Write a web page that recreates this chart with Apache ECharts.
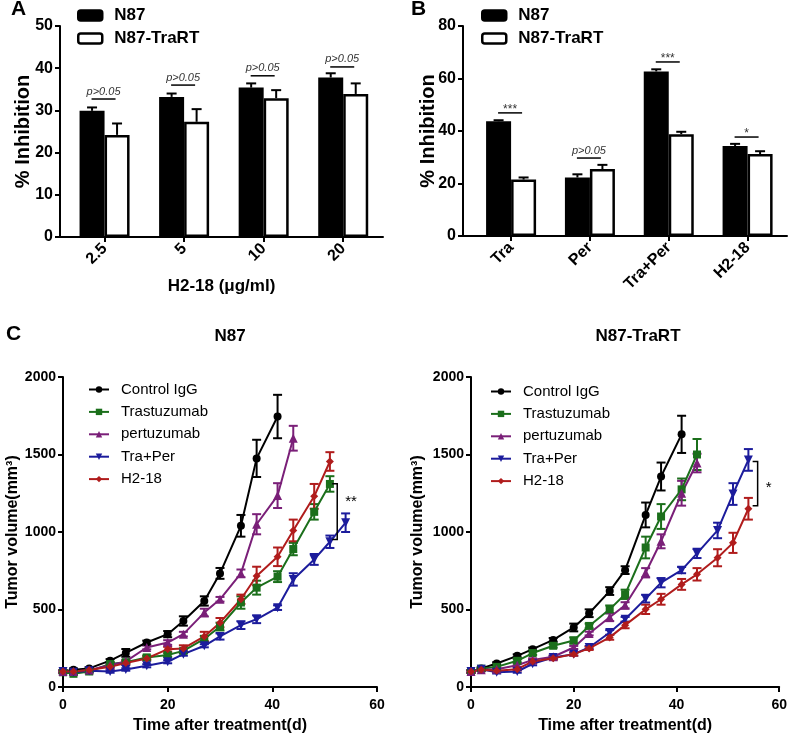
<!DOCTYPE html>
<html><head><meta charset="utf-8">
<script src="https://cdn.jsdelivr.net/npm/echarts@6/dist/echarts.min.js"></script>
<style>html,body{margin:0;padding:0;background:#fff}#c{width:790px;height:735px}</style>
</head><body><div id="c"></div>
<script>
// ---------- Panel A ----------
const aCategories = ['2.5', '5', '10', '20'];
const aN87 = [29.9, 33.2, 35.4, 37.8];
const aN87Err = [0.8, 0.8, 1.0, 1.0];
const aTraRT = [24.2, 27.3, 32.9, 33.9];
const aTraRTErr = [2.7, 3.0, 1.9, 2.5];
const aSigLabels = ['p>0.05', 'p>0.05', 'p>0.05', 'p>0.05'];
const aSigLevels = [32.7, 36.0, 38.2, 40.3];

// ---------- Panel B ----------
const bCategories = ['Tra', 'Per', 'Tra+Per', 'H2-18'];
const bN87 = [43.7, 22.3, 62.7, 34.3];
const bN87Err = [0.4, 1.2, 0.8, 0.8];
const bTraRT = [21.5, 25.5, 38.8, 31.2];
const bTraRTErr = [0.8, 1.6, 0.9, 1.1];
const bSigLabels = ['***', 'p>0.05', '***', '*'];
const bSigLevels = [46.9, 29.7, 66.3, 37.7];

// ---------- Panel C ----------
const days = [0, 2, 5, 9, 12, 16, 20, 23, 27, 30, 34, 37, 41, 44, 48, 51, 54];
const groupNames = ['Control IgG', 'Trastuzumab', 'pertuzumab', 'Tra+Per', 'H2-18'];

// N87 xenograft
const n87Control = [100, 112, 120, 170, 220, 287, 341, 426, 555, 733, 1040, 1475, 1745];
const n87ControlErr = [8, 8, 8, 10, 25, 12, 20, 30, 30, 35, 70, 120, 140];
const n87Tras = [95, 85, 100, 148, 160, 191, 206, 233, 310, 390, 545, 641, 712, 890, 1130, 1310];
const n87TrasErr = [8, 8, 8, 10, 10, 12, 12, 15, 20, 25, 40, 45, 35, 40, 50, 50];
const n87Pert = [100, 100, 110, 140, 165, 255, 287, 341, 480, 566, 733, 1050, 1235, 1605];
const n87PertErr = [8, 8, 8, 10, 10, 12, 15, 15, 25, 15, 25, 65, 80, 80];
const n87TraPer = [100, 95, 105, 100, 113, 137, 163, 212, 266, 326, 399, 437, 512, 694, 823, 937, 1060];
const n87TraPerErr = [8, 8, 8, 8, 8, 10, 10, 10, 10, 20, 25, 25, 15, 40, 35, 40, 60];
const n87H218 = [100, 100, 110, 130, 155, 184, 244, 249, 326, 415, 566, 716, 840, 1010, 1230, 1455];
const n87H218Err = [8, 8, 8, 10, 10, 12, 15, 20, 30, 30, 30, 60, 60, 70, 80, 60];
const n87Bracket = [52.4, 1312, 952];
const n87BracketLabel = '**';

// N87-TraRT xenograft
const rtControl = [100, 120, 152, 201, 244, 304, 384, 476, 619, 754, 1110, 1358, 1630];
const rtControlErr = [8, 8, 8, 10, 10, 12, 25, 25, 25, 25, 80, 90, 120];
const rtTras = [100, 118, 130, 169, 219, 266, 300, 394, 501, 598, 900, 1100, 1275, 1500];
const rtTrasErr = [8, 8, 8, 10, 12, 12, 20, 15, 25, 30, 70, 80, 70, 100];
const rtPert = [100, 112, 115, 140, 175, 195, 255, 345, 450, 527, 737, 940, 1250, 1445];
const rtPertErr = [8, 8, 8, 10, 10, 10, 10, 12, 25, 20, 30, 45, 80, 60];
const rtTraPer = [100, 115, 95, 100, 150, 190, 212, 255, 352, 437, 570, 673, 754, 862, 1010, 1245, 1465];
const rtTraPerErr = [8, 8, 8, 8, 10, 10, 10, 10, 15, 15, 25, 30, 20, 30, 50, 70, 70];
const rtH218 = [100, 112, 105, 115, 165, 185, 212, 249, 320, 399, 501, 566, 662, 727, 834, 930, 1150];
const rtH218Err = [8, 8, 8, 8, 10, 10, 10, 10, 15, 20, 30, 35, 35, 40, 55, 65, 70];
const rtBracket = [55.8, 1455, 1170];
const rtBracketLabel = '*';

// ---------- styling ----------
const FONT = '"Liberation Sans", Arial, Helvetica, sans-serif';
const BAR_W = 25;
const groupColors = ['#000000', '#1b6f1b', '#7a1f78', '#1c1c9c', '#b01c1c'];
const groupSymbols = ['circle', 'rect', 'triangle', 'path://M0,0L10,0L5,9Z', 'diamond'];
const groupSymbolSizes = [8, 8, 9, 9, 8];

const axisLine = { show: true, onZero: false, lineStyle: { color: '#000', width: 2 } };
const axisTick = { show: true, length: 5, lineStyle: { color: '#000', width: 2 } };

function barErrRender(sign) {
  return function (params, api) {
    const i = api.value(0), v = api.value(1), e = api.value(2);
    const p0 = api.coord([i, v]);
    const p1 = api.coord([i, v + e]);
    const x = p0[0] + sign * BAR_W / 2;
    return { type: 'group', children: [
      { type: 'line', shape: { x1: x, y1: p0[1], x2: x, y2: p1[1] }, style: { stroke: '#000', lineWidth: 2 } },
      { type: 'line', shape: { x1: x - 5, y1: p1[1], x2: x + 5, y2: p1[1] }, style: { stroke: '#000', lineWidth: 2 } }
    ]};
  };
}
function sigRender(labels) {
  return function (params, api) {
    const p = api.coord([api.value(0), api.value(1)]);
    const txt = labels[params.dataIndex];
    const isP = txt.indexOf('p') === 0;
    return { type: 'group', children: [
      { type: 'line', shape: { x1: p[0] - 13, y1: p[1], x2: p[0] + 11, y2: p[1] }, style: { stroke: '#000', lineWidth: 1.5 } },
      { type: 'text', x: p[0] - 1, y: isP ? p[1] - 2 : p[1] + 3, style: { text: txt, align: 'center', verticalAlign: 'bottom',
        fontSize: isP ? 11 : 12, fontStyle: isP ? 'italic' : 'normal', fontFamily: FONT, fill: '#333' } }
    ]};
  };
}
function lineErrRender(color) {
  return function (params, api) {
    const x = api.value(0), y = api.value(1), e = api.value(2);
    const t = api.coord([x, y + e]), b = api.coord([x, y - e]);
    const st = { stroke: color, lineWidth: 2 };
    return { type: 'group', children: [
      { type: 'line', shape: { x1: t[0], y1: t[1], x2: b[0], y2: b[1] }, style: st },
      { type: 'line', shape: { x1: t[0] - 4.5, y1: t[1], x2: t[0] + 4.5, y2: t[1] }, style: st },
      { type: 'line', shape: { x1: b[0] - 4.5, y1: b[1], x2: b[0] + 4.5, y2: b[1] }, style: st }
    ]};
  };
}
function bracketRender(label, dy) {
  return function (params, api) {
    const x = api.value(0);
    const a = api.coord([x, api.value(1)]), b = api.coord([x, api.value(2)]);
    return { type: 'group', children: [
      { type: 'polyline', shape: { points: [[a[0] - 5, a[1]], [a[0], a[1]], [b[0], b[1]], [b[0] - 5, b[1]]] },
        style: { stroke: '#000', lineWidth: 1.5, fill: null } },
      { type: 'text', x: a[0] + 8, y: (a[1] + b[1]) / 2 + dy, style: { text: label, align: 'left', verticalAlign: 'middle',
        fontSize: 15, fontFamily: FONT, fill: '#000' } }
    ]};
  };
}

const series = [];
// Bars A (grid 0) and B (grid 1)
[[aN87, aN87Err, aTraRT, aTraRTErr, aSigLevels, aSigLabels, 0],
 [bN87, bN87Err, bTraRT, bTraRTErr, bSigLevels, bSigLabels, 1]].forEach(([n, ne, t, te, sl, sLab, g]) => {
  series.push({ type: 'bar', name: 'N87', xAxisIndex: g, yAxisIndex: g, barWidth: BAR_W, barGap: '0%',
    itemStyle: { color: '#000', borderColor: '#000', borderWidth: 2.5 }, data: n.map((v, i) => [i, v]) });
  series.push({ type: 'bar', name: 'N87-TraRT', xAxisIndex: g, yAxisIndex: g, barWidth: BAR_W, barGap: '0%',
    itemStyle: { color: '#fff', borderColor: '#000', borderWidth: 2.5 }, data: t.map((v, i) => [i, v]) });
  series.push({ type: 'custom', xAxisIndex: g, yAxisIndex: g, renderItem: barErrRender(-1), encode: { x: 0, y: 1 },
    data: n.map((v, i) => [i, v, ne[i]]), z: 3 });
  series.push({ type: 'custom', xAxisIndex: g, yAxisIndex: g, renderItem: barErrRender(1), encode: { x: 0, y: 1 },
    data: t.map((v, i) => [i, v, te[i]]), z: 3 });
  series.push({ type: 'custom', xAxisIndex: g, yAxisIndex: g, renderItem: sigRender(sLab), encode: { x: 0, y: 1 },
    data: sl.map((v, i) => [i, v]), z: 4 });
});

// Lines C (grids 2, 3)
const panelC = [
  { g: 2, vals: [n87Control, n87Tras, n87Pert, n87TraPer, n87H218], errs: [n87ControlErr, n87TrasErr, n87PertErr, n87TraPerErr, n87H218Err], br: n87Bracket, brl: n87BracketLabel, dy: -10 },
  { g: 3, vals: [rtControl, rtTras, rtPert, rtTraPer, rtH218], errs: [rtControlErr, rtTrasErr, rtPertErr, rtTraPerErr, rtH218Err], br: rtBracket, brl: rtBracketLabel, dy: 4 }
];
panelC.forEach(p => {
  p.vals.forEach((vals, k) => {
    const col = groupColors[k];
    series.push({ type: 'custom', xAxisIndex: p.g, yAxisIndex: p.g, renderItem: lineErrRender(col), encode: { x: 0, y: 1 },
      data: vals.map((v, i) => [days[i], v, p.errs[k][i]]), z: 2 });
    series.push({ type: 'line', name: groupNames[k], xAxisIndex: p.g, yAxisIndex: p.g,
      symbol: groupSymbols[k], symbolSize: groupSymbolSizes[k], showAllSymbol: true,
      lineStyle: { color: col, width: 2 }, itemStyle: { color: col },
      data: vals.map((v, i) => [days[i], v]), z: 3 });
  });
  series.push({ type: 'custom', xAxisIndex: p.g, yAxisIndex: p.g, renderItem: bracketRender(p.brl, p.dy), encode: { x: 0, y: 1 },
    data: [p.br], z: 4 });
});

const catTicks = [0, 1, 2, 3];
function barXAxis(g, cats, min) {
  return { gridIndex: g, type: 'value', min: min, max: 3.5,
    axisLine, axisTick: Object.assign({}, axisTick, { customValues: catTicks }), splitLine: { show: false },
    axisLabel: { customValues: catTicks, rotate: 45, margin: 9, color: '#000', fontSize: 16, fontWeight: 'bold', fontFamily: FONT,
      formatter: v => cats[Math.round(v)] } };
}
function yAxisCfg(g, max, interval, name, nameGap, fs, lfs, margin, moveOverlap) {
  return { gridIndex: g, type: 'value', min: 0, max, interval, name, nameLocation: 'middle', nameGap, nameRotate: 90,
    nameMoveOverlap: moveOverlap,
    nameTextStyle: { color: '#000', fontSize: fs, fontWeight: 'bold', fontFamily: FONT },
    axisLine, axisTick, splitLine: { show: false },
    axisLabel: { color: '#000', fontSize: lfs, fontWeight: 'bold', fontFamily: FONT, margin, formatter: v => String(v) } };
}
function timeXAxis(g) {
  return { gridIndex: g, type: 'value', min: 0, max: 60, interval: 20, name: 'Time after treatment(d)',
    nameLocation: 'middle', nameGap: 31, nameTextStyle: { color: '#000', fontSize: 16, fontWeight: 'bold', fontFamily: FONT },
    axisLine, axisTick, splitLine: { show: false },
    axisLabel: { color: '#000', fontSize: 14, fontWeight: 'bold', fontFamily: FONT, margin: 11, formatter: v => String(v) } };
}

const barLegend = (left, top) => ({ left, top, padding: 0, orient: 'vertical', icon: 'roundRect', itemWidth: 24, itemHeight: 10, itemGap: 6,
  data: ['N87', 'N87-TraRT'], selectedMode: false, itemStyle: { borderWidth: 2.5 },
  textStyle: { fontSize: 17, fontWeight: 'bold', fontFamily: FONT, color: '#000', padding: [0, 0, 0, 7] } });
const lineLegend = (left, top) => ({ left, top, padding: 0, orient: 'vertical', itemWidth: 20, itemHeight: 8, itemGap: 7.4,
  data: groupNames, selectedMode: false,
  textStyle: { fontSize: 15, fontFamily: FONT, color: '#000', padding: [0, 0, 0, 7] } });

const option = {
  animation: false,
  backgroundColor: '#fff',
  grid: [
    { left: 60, top: 26, width: 323, height: 211 },
    { left: 463, top: 26, width: 324, height: 210 },
    { left: 63, top: 377, width: 314, height: 311 },
    { left: 471, top: 377, width: 311, height: 311 }
  ],
  xAxis: [
    Object.assign(barXAxis(0, aCategories, -0.56), { name: 'H2-18 (μg/ml)', nameLocation: 'middle', nameGap: 41,
      nameTextStyle: { color: '#000', fontSize: 17, fontWeight: 'bold', fontFamily: FONT } }),
    barXAxis(1, bCategories, -0.61),
    timeXAxis(2),
    timeXAxis(3)
  ],
  yAxis: [
    yAxisCfg(0, 50, 10, '% Inhibition', 27, 20, 16, 7, false),
    yAxisCfg(1, 80, 20, '% Inhibition', 25, 20, 16, 7, false),
    yAxisCfg(2, 2000, 500, 'Tumor volume(mm³)', 41, 16, 14, 7, true),
    yAxisCfg(3, 2000, 500, 'Tumor volume(mm³)', 45, 16, 14, 7, true)
  ],
  legend: [barLegend(77, 7), barLegend(481, 7), lineLegend(88, 382), lineLegend(490, 384)],
  graphic: [
    { type: 'text', x: 11, y: -1, style: { text: 'A', font: 'bold 21px ' + FONT, fill: '#000' } },
    { type: 'text', x: 411, y: -1, style: { text: 'B', font: 'bold 21px ' + FONT, fill: '#000' } },
    { type: 'text', x: 6, y: 324, style: { text: 'C', font: 'bold 21px ' + FONT, fill: '#000' } },
    { type: 'text', x: 230, y: 328, style: { text: 'N87', align: 'center', font: 'bold 17px ' + FONT, fill: '#000' } },
    { type: 'text', x: 638, y: 328, style: { text: 'N87-TraRT', align: 'center', font: 'bold 17px ' + FONT, fill: '#000' } }
  ],
  series
};
const chart = echarts.init(document.getElementById('c'), null, { renderer: 'canvas' });
chart.setOption(option);
</script>
</body></html>
